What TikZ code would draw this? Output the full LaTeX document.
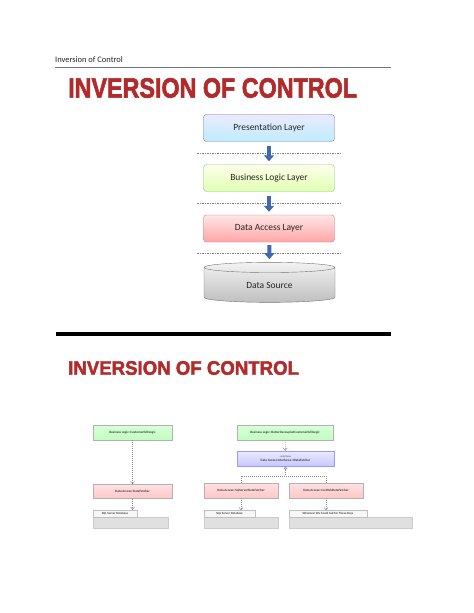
\documentclass[tikz,border=0pt]{standalone}
\usepackage{fontspec}
\setmainfont{Carlito}
\newfontfamily\titlefont{Liberation Sans Bold}[FakeBold=2.2]
\usetikzlibrary{shapes.geometric,arrows.meta}
\definecolor{iocred}{RGB}{178,42,42}
\definecolor{flowblue}{RGB}{62,104,176}
\begin{document}
\begin{tikzpicture}[x=1bp, y=-1bp,
    title/.style={anchor=west, inner sep=0pt, text=iocred},
    layer/.style={rounded corners=3bp, minimum width=131bp, minimum height=27bp, inner sep=0pt, text=black!85, font=\fontsize{9.5}{10}\selectfont},
    pres/.style={layer, draw=blue!35!gray!80, top color=blue!8, bottom color=blue!30!cyan!25},
    logic/.style={layer, draw=green!45!gray!70, top color=green!5!yellow!8, bottom color=green!40!yellow!30},
    access/.style={layer, draw=red!45!gray!70, top color=red!10, bottom color=red!35},
    source/.style={cylinder, shape border rotate=90, aspect=0.22, draw=black!55, top color=black!5, bottom color=black!25, minimum width=131bp, minimum height=40bp, inner sep=0pt, text=black!85, font=\fontsize{9.5}{10}\selectfont},
    flow/.style={line width=4bp, flowblue, -{Triangle[width=10bp, length=6bp]}},
    split/.style={black!50, dash pattern=on 1.5bp off 1bp, line width=0.6bp},
    uml/.style={draw=black!30, minimum height=15bp, inner sep=0pt, text=black!75, font=\fontsize{3.3}{4}\selectfont\bfseries},
    umllogic/.style={uml, top color=green!15, bottom color=green!25},
    umliface/.style={uml, draw=blue!40, top color=blue!8, bottom color=blue!22, align=center},
    umlaccess/.style={uml, top color=red!12, bottom color=red!22, minimum height=14bp},
    umltab/.style={draw=black!25, fill=black!3, minimum height=7bp, inner sep=0pt, text=black!70, font=\fontsize{3.1}{4}\selectfont\bfseries},
    umlbody/.style={draw=black!20, fill=black!12, minimum height=11bp, inner sep=0pt},
    dep/.style={black!45, dash pattern=on 1bp off 1bp, line width=0.5bp, -{Straight Barb[length=2.5bp, width=4bp]}},
    realize/.style={black!45, dash pattern=on 1bp off 1bp, line width=0.5bp, -{Triangle[open, length=3bp, width=4bp]}}
]
\useasboundingbox (0,0) rectangle (474,613);
\fill[white] (0,0) rectangle (474,613);

\node[anchor=base west, inner sep=0pt, text=black!85, font=\fontsize{8.5}{10}\selectfont] (head) at (55,63) {Inversion of Control};
\draw[black!55, line width=0.8bp] (55,67) -- (391,67);

\node[title, font=\titlefont\fontsize{23.4}{26}\selectfont, yscale=1.2] (title1) at (68,88) {INVERSION OF CONTROL};

\draw[split] (197,153) -- (342,153);
\draw[split] (197,203) -- (342,203);
\draw[split] (197,253) -- (342,253);

\node[pres] (p) at (269,128) {Presentation Layer};
\node[logic] (b) at (269,178) {Business Logic Layer};
\node[access] (d) at (269,228.5) {Data Access Layer};
\node[source] (s) at (269.5,285) {Data Source};

\draw[flow, shorten <=4bp, shorten >=3bp] (p) -- (b);
\draw[flow, shorten <=4bp, shorten >=3bp] (b) -- (d);
\draw[flow, shorten <=3bp, shorten >=3bp] (d) -- (s.north);

\draw[black, line width=3.5bp] (56,334) -- (391,334);
\node[title, font=\titlefont\fontsize{18.7}{22}\selectfont, yscale=1.05] (title2) at (68,368) {INVERSION OF CONTROL};

\node[umllogic, minimum width=79bp] (lbl) at (132.5,432.5) {Business Logic::CustomerEditLogic};
\node[umlaccess, minimum width=79bp] (lda) at (132.5,491.5) {Data Access::DataFetcher};
\node[umlbody, minimum width=75bp] (lsqlb) at (130.5,522.5) {};
\node[umltab, minimum width=44bp] (lsql) at (115,513.5) {SQL Server Database};
\draw[dep] (lbl) -- (lda);
\draw[dep] (lda.south) -- (lda.south |- lsql.north);

\node[umllogic, minimum width=96bp] (rbl) at (285,432.5) {Business Logic::BetterDecoupledCustomerEditLogic};
\node[umliface, minimum width=97bp] (rif) at (285.5,458.5) {{\fontsize{2.6}{3}\selectfont\mdseries «interface»}\\[-0.3bp]Data Access Interfaces::IDataFetcher};
\node[umlaccess, minimum width=74bp, minimum height=15bp] (rsql) at (241,490.5) {Data Access::SqlServerDataFetcher};
\node[umlaccess, minimum width=74bp, minimum height=15bp] (rcsv) at (326,490.5) {Data Access::CsvWebDataFetcher};
\node[umlbody, minimum width=74bp] (rsqldbb) at (241,522.5) {};
\node[umltab, minimum width=51bp] (rsqldb) at (229.5,514) {SQL Server Database};
\node[umlbody, minimum width=123bp] (rotherb) at (350.5,522.5) {};
\node[umltab, minimum width=78bp] (rother) at (328,514) {Whatever We Could Ask For These Days};
\coordinate (join) at (285.5,476);
\draw[dep] (rbl) -- (rif);
\draw[realize] (rsql.north) |- (join) -- (rif.south);
\draw[black!45, dash pattern=on 1bp off 1bp, line width=0.5bp] (rcsv.north) |- (join);
\draw[dep] (rsql.south) -- (rsql.south |- rsqldb.north);
\draw[dep] (rcsv.south) -- (rcsv.south |- rother.north);
\end{tikzpicture}
\end{document}
